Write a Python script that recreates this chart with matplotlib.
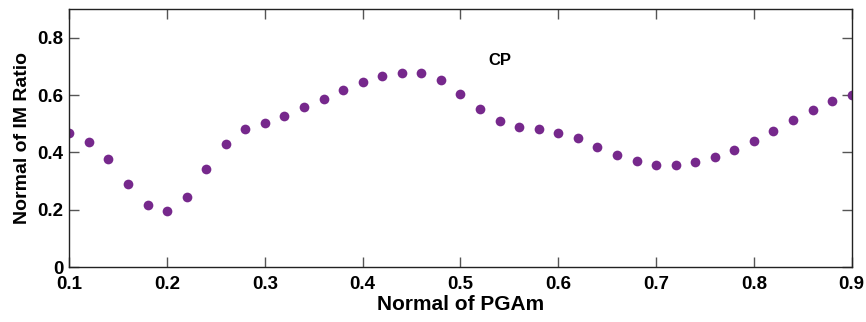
import numpy as np
import matplotlib
matplotlib.use("Agg")
import matplotlib.pyplot as plt

# =========================
# DATA
# =========================

pgam = np.round(np.arange(0.10, 0.901, 0.02), 2)

im_ratio = [
    0.469, 0.436, 0.376, 0.291, 0.217, 0.195, 0.246, 0.341, 0.428, 0.481,
    0.504, 0.527, 0.557, 0.587, 0.618, 0.645, 0.665, 0.678, 0.676, 0.653,
    0.605, 0.553, 0.509, 0.488, 0.481, 0.469, 0.449, 0.418, 0.390, 0.370,
    0.358, 0.357, 0.366, 0.385, 0.409, 0.440, 0.476, 0.513, 0.548, 0.578,
    0.600,
]

xticks = [0.1, 0.2, 0.3, 0.4, 0.5, 0.6, 0.7, 0.8, 0.9]
xticklabels = ["0.1", "0.2", "0.3", "0.4", "0.5", "0.6", "0.7", "0.8", "0.9"]
yticks = [0, 0.2, 0.4, 0.6, 0.8]
yticklabels = ["0", "0.2", "0.4", "0.6", "0.8"]

# =========================
# PLOT
# =========================

plt.rcParams["font.family"] = ["Liberation Sans", "DejaVu Sans"]
plt.rcParams["font.weight"] = "bold"

fig = plt.figure(figsize=(8.66, 3.22), dpi=100)
ax = fig.add_axes([0.080, 0.170, 0.9035, 0.802])

ax.plot(pgam, im_ratio, "o", color="#76288c", markersize=7, markeredgewidth=0)

ax.text(0.54, 0.72, "CP", fontsize=12, fontweight="bold", ha="center", va="center")

ax.set_xlim(0.1, 0.9)
ax.set_ylim(0, 0.9)
ax.set_xticks(xticks)
ax.set_xticklabels(xticklabels)
ax.set_yticks(yticks)
ax.set_yticklabels(yticklabels)

ax.tick_params(direction="in", length=7.5, width=1, color="#555555",
               top=True, right=True, labelsize=13.5)
ax.tick_params(axis="x", pad=6)
ax.tick_params(axis="y", pad=4)
for lab in ax.get_xticklabels() + ax.get_yticklabels():
    lab.set_fontweight("bold")
for s in ax.spines.values():
    s.set_linewidth(1)
    s.set_color("#222222")

ax.set_xlabel("Normal of PGAm", fontsize=15, fontweight="bold", labelpad=1.5)
ax.set_ylabel("Normal of IM Ratio", fontsize=14, fontweight="bold", labelpad=5)

fig.savefig("out.png", dpi=100)
